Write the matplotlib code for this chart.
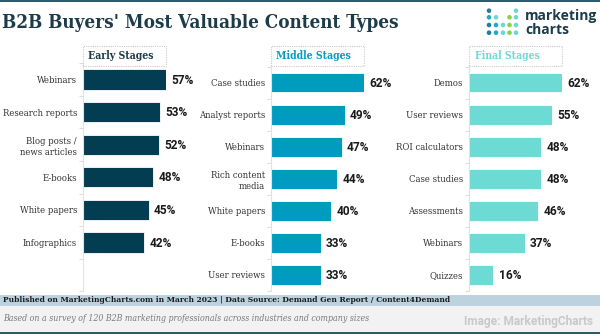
import matplotlib
matplotlib.use("Agg")
import matplotlib.pyplot as plt
from matplotlib.patches import Rectangle, Ellipse
from matplotlib import font_manager as fm

W, H = 600, 334

early_cats = ["Webinars", "Research reports", "Blog posts /\nnews articles", "E-books", "White papers", "Infographics"]
early_vals = [57, 53, 52, 48, 45, 42]
middle_cats = ["Case studies", "Analyst reports", "Webinars", "Rich content\nmedia", "White papers", "E-books", "User reviews"]
middle_vals = [62, 49, 47, 44, 40, 33, 33]
final_cats = ["Demos", "User reviews", "ROI calculators", "Case studies", "Assessments", "Webinars", "Quizzes"]
final_vals = [62, 55, 48, 48, 46, 37, 16]

panel_titles = ["Early Stages", "Middle Stages", "Final Stages"]
colors = ["#023d52", "#009cc0", "#6ddad3"]
title_colors = ["#1d3c4a", "#0a9ac4", "#6ddad3"]

# detect condensed serif
_p = fm.findfont(fm.FontProperties(family="DejaVu Serif", stretch="condensed"), fallback_to_default=False)
HAS_COND = "Condensed" in _p
_pb = fm.findfont(fm.FontProperties(family="DejaVu Serif", stretch="condensed", weight="bold"), fallback_to_default=False)
HAS_COND_B = "Condensed" in _pb


def serif(size_cond, size_norm, bold=False, italic=False):
    ok = HAS_COND_B if bold else HAS_COND
    d = dict(family="DejaVu Serif", fontweight="bold" if bold else "normal",
             style="italic" if italic else "normal")
    if ok:
        d.update(fontstretch="condensed", fontsize=size_cond)
    else:
        d.update(fontsize=size_norm)
    return d


fig = plt.figure(figsize=(W / 100, H / 100), dpi=100)
fig.patch.set_facecolor("white")


def fx(px):
    return px / W


def fy(py):
    return 1 - py / H


# top border
fig.add_artist(Rectangle((0, fy(2)), 1, 2 / H, transform=fig.transFigure, color="#2b5b6e", lw=0))

fig.text(fx(2), fy(23), "B2B Buyers' Most Valuable Content Types", color="#1d3c4a",
         va="center", ha="left", **serif(13.5, 11.9, bold=True))

# logo
dot_cols = [489, 496, 503, 509.5, 516]
dot_rows = [10.7, 17.3, 25, 32.7]
dark, mid, light, green = "#1f7ea1", "#22a9c8", "#6fd6d6", "#8cd048"
pattern = [
    [dark, None, None, None, light],
    [mid, light, None, green, light],
    [dark, mid, light, green, light],
    [dark, mid, light, green, light],
]
for r, row in enumerate(pattern):
    for c, col in enumerate(row):
        if col:
            fig.add_artist(Ellipse((fx(dot_cols[c]), fy(dot_rows[r])), 4.6 / W, 4.6 / H,
                                   transform=fig.transFigure, color=col, lw=0))
fig.text(fx(525), fy(16), "marketing", fontsize=10, fontweight="bold", family="Open Sans",
         color="#1d3c4a", va="center", ha="left")
fig.text(fx(525), fy(30.5), "charts", fontsize=10, fontweight="bold", family="Open Sans",
         color="#1d3c4a", va="center", ha="left")

panels = [
    (early_cats, early_vals, 83, 166, 63.2, 291.4),
    (middle_cats, middle_vals, 271, 364, 66.5, 291),
    (final_cats, final_vals, 469, 562, 66.5, 291),
]

lab_font = serif(6.8, 6.3)
head_font = serif(7.6, 6.6, bold=True)

for i, (cats, vals, x0, x1, ytop, ybot) in enumerate(panels):
    ax = fig.add_axes([fx(x0), fy(ybot), fx(x1) - fx(x0), (ybot - ytop) / H])
    ypos = list(range(len(cats)))
    ax.barh(ypos, vals, height=0.62, color=colors[i], edgecolor="white", linewidth=0.6)
    ax.set_xlim(0, max(vals))
    ax.set_ylim(6.5, -0.5)
    ax.set_yticks(ypos)
    ax.set_yticklabels(cats, color="#333333", linespacing=1.3, **lab_font)
    ax.set_yticks([k + 0.5 for k in range(-1, 7)], minor=True)
    ax.tick_params(axis="y", which="major", length=0, pad=4.3)
    ax.tick_params(axis="y", which="minor", length=3, color="#dddddd", width=0.8)
    ax.set_xticks([])
    for s in ["top", "right", "bottom"]:
        ax.spines[s].set_visible(False)
    ax.spines["left"].set_color("#e2e2e2")
    ax.spines["left"].set_linewidth(0.8)
    ax.set_facecolor("none")
    for y, v in zip(ypos, vals):
        ax.annotate(f"{v}%", (v, y), xytext=(4, -0.5), textcoords="offset points",
                    fontsize=8.6, fontweight="bold", family="Roboto", color="#1a1a1a",
                    va="center", ha="left", annotation_clip=False)
    # header box
    fig.add_artist(Rectangle((fx(x0), fy(66)), fx(x1) - fx(x0), 20.3 / H,
                             transform=fig.transFigure, facecolor="white",
                             edgecolor="#cccccc", lw=0.8, ls=(0, (1, 1))))
    fig.text(fx(x0 + 5.5), fy(55.5), panel_titles[i], color=title_colors[i],
             va="center", ha="left", **head_font)

# footer
fig.add_artist(Rectangle((0, fy(306)), 1, 11 / H, transform=fig.transFigure, color="#bcd3df", lw=0))
fig.add_artist(Rectangle((0, fy(332)), 1, 26 / H, transform=fig.transFigure, color="#f2f2f2", lw=0))
fig.add_artist(Rectangle((0, 0), 1, 2 / H, transform=fig.transFigure, color="#2b5b6e", lw=0))
fig.text(fx(3), fy(300.5), "Published on MarketingCharts.com in March 2023 | Data Source: Demand Gen Report / Content4Demand",
         color="#1a1a1a", va="center", ha="left", **serif(6.0, 5.15, bold=True))
fig.text(fx(3), fy(318.5), "Based on a survey of 120 B2B marketing professionals across industries and company sizes",
         color="#7a7a7a", va="center", ha="left", **serif(6.3, 5.72, italic=True))
fig.text(fx(593), fy(321), "Image: MarketingCharts", fontsize=8.6, fontweight="bold",
         family="Roboto", color="#c9c9c9", va="center", ha="right")

fig.savefig("out.png", dpi=100)
